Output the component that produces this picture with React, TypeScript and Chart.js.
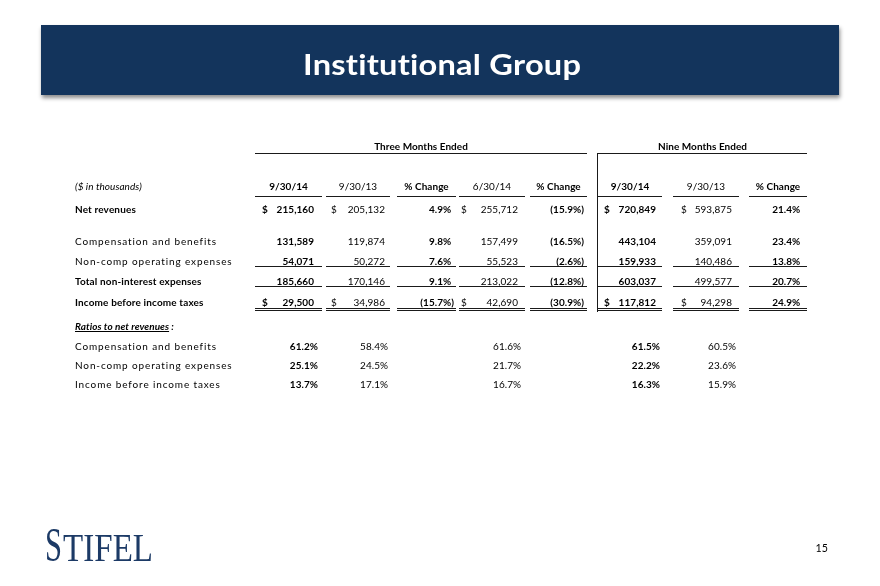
import React, { useEffect, useRef } from "react";
import { Chart, registerables } from "chart.js";

Chart.register(...registerables);

// ---------------- DATA ----------------
const title = "Institutional Group";
const groupHeaders = ["Three Months Ended", "Nine Months Ended"];
const unitsLabel = "($ in thousands)";
const columnHeaders = ["9/30/14", "9/30/13", "% Change", "6/30/14", "% Change", "9/30/14", "9/30/13", "% Change"];

const rowLabels = [
  "Net revenues",
  "Compensation and benefits",
  "Non-comp operating expenses",
  "Total non-interest expenses",
  "Income before income taxes",
];
const ratiosTitle = "Ratios to net revenues";
const ratioLabels = ["Compensation and benefits", "Non-comp operating expenses", "Income before income taxes"];

const q3_2014 = [215160, 131589, 54071, 185660, 29500];
const q3_2013 = [205132, 119874, 50272, 170146, 34986];
const changeYoY = [4.9, 9.8, 7.6, 9.1, -15.7];
const q2_2014 = [255712, 157499, 55523, 213022, 42690];
const changeQoQ = [-15.9, -16.5, -2.6, -12.8, -30.9];
const ytd_2014 = [720849, 443104, 159933, 603037, 117812];
const ytd_2013 = [593875, 359091, 140486, 499577, 94298];
const changeYtd = [21.4, 23.4, 13.8, 20.7, 24.9];

const ratio_q3_2014 = [61.2, 25.1, 13.7];
const ratio_q3_2013 = [58.4, 24.5, 17.1];
const ratio_q2_2014 = [61.6, 21.7, 16.7];
const ratio_ytd_2014 = [61.5, 22.2, 16.3];
const ratio_ytd_2013 = [60.5, 23.6, 15.9];

const pageNumber = "15";
const logoText = "STIFEL";

// ---------------- LAYOUT / STYLE ----------------
const W = 880;
const H = 586;
const FONT = 'Lato, "Noto Sans", sans-serif';
const BODY = 10.3;
const SX = 0.97;
const NAVY = "#13345c";
const LINE = "#1a1a1a";
const LABEL_X = 75;

const COLS = [
  { l: 255, r: 322, num: 314, dollar: 262, ratio: 318, bold: true },
  { l: 326, r: 390, num: 385, dollar: 331, ratio: 388, bold: false },
  { l: 397, r: 456, num: 454, dollar: 0, ratio: 0, bold: true },
  { l: 459, r: 525, num: 518, dollar: 461, ratio: 521, bold: false },
  { l: 530, r: 587, num: 584, dollar: 0, ratio: 0, bold: true },
  { l: 598, r: 662, num: 656, dollar: 604, ratio: 660, bold: true },
  { l: 673, r: 739, num: 732, dollar: 681, ratio: 736, bold: false },
  { l: 749, r: 807, num: 803, dollar: 0, ratio: 0, bold: true },
];
const ROW_Y = [209, 241.5, 261.5, 281.5, 301.8];
const RATIO_Y = [346, 365, 384];
const HEADER_Y = 186.5;
const GROUP_Y = 146;
const RATIOS_TITLE_Y = 326.5;
const BOLD_ROWS = [true, false, false, true, true];
const DOLLAR_ROWS = [0, 4];

const mainColumns = [q3_2014, q3_2013, changeYoY, q2_2014, changeQoQ, ytd_2014, ytd_2013, changeYtd];
const mainKinds = ["num", "num", "pct", "num", "pct", "num", "num", "pct"];
const ratioColumns: [number, number[]][] = [
  [0, ratio_q3_2014],
  [1, ratio_q3_2013],
  [3, ratio_q2_2014],
  [5, ratio_ytd_2014],
  [6, ratio_ytd_2013],
];

type TOpts = {
  size?: number;
  weight?: string;
  style?: string;
  align?: "left" | "right" | "center";
  color?: string;
  sx?: number;
  spacing?: number;
  family?: string;
  fitWidth?: number;
};

function txt(ctx: CanvasRenderingContext2D, s: string, x: number, yCenter: number, o: TOpts = {}) {
  const size = o.size ?? BODY;
  const weight = o.weight ?? "normal";
  const style = o.style ?? "normal";
  const align = o.align ?? "left";
  const family = o.family ?? FONT;
  const spacing = o.spacing ?? 0.05; // non-zero spacing also disables ligatures
  ctx.save();
  ctx.font = `${style} ${weight} ${size}px ${family}`;
  (ctx as any).letterSpacing = `${spacing}px`;
  ctx.fillStyle = o.color ?? "#000";
  ctx.textAlign = "left";
  ctx.textBaseline = "alphabetic";
  const raw = ctx.measureText(s).width - spacing;
  let sx = o.sx ?? SX;
  if (o.fitWidth) sx = o.fitWidth / raw;
  const w = raw * sx;
  const left = align === "left" ? x : align === "right" ? x - w : x - w / 2;
  const baseline = yCenter + 0.36 * size;
  ctx.translate(left, baseline);
  ctx.scale(sx, 1);
  ctx.fillText(s, 0, 0);
  ctx.restore();
  return { left, w, baseline };
}

function hline(ctx: CanvasRenderingContext2D, x1: number, x2: number, y: number, th = 1) {
  ctx.fillStyle = LINE;
  ctx.fillRect(x1, y, x2 - x1, th);
}

function fmtNum(v: number) {
  return v.toLocaleString("en-US");
}
function fmtPct(v: number) {
  return v < 0 ? `(${Math.abs(v).toFixed(1)}%)` : `${v.toFixed(1)}%`;
}

const tablePlugin = {
  id: "tablePlugin",
  beforeDraw(chart: any) {
    const ctx: CanvasRenderingContext2D = chart.ctx;
    ctx.save();
    ctx.fillStyle = "#fff";
    ctx.fillRect(0, 0, W, H);
    ctx.shadowColor = "rgba(0,0,0,0.45)";
    ctx.shadowBlur = 4;
    ctx.shadowOffsetX = 1;
    ctx.shadowOffsetY = 3;
    ctx.fillStyle = NAVY;
    ctx.fillRect(41, 25, 798, 70);
    ctx.restore();
    txt(ctx, title, 442, 65, { size: 28.5, weight: "bold", color: "#fff", align: "center", fitWidth: 278, spacing: 0.2 });
  },
  afterDatasetsDraw(chart: any) {
    const ctx: CanvasRenderingContext2D = chart.ctx;
    const xs = chart.scales.x;
    const ys = chart.scales.y;
    const px = (v: number) => xs.getPixelForValue(v);
    const py = (v: number) => ys.getPixelForValue(v);

    txt(ctx, groupHeaders[0], (px(COLS[0].l) + px(COLS[4].r)) / 2, py(GROUP_Y), { weight: "bold", align: "center" });
    txt(ctx, groupHeaders[1], (px(COLS[5].l) + px(COLS[7].r)) / 2, py(GROUP_Y), { weight: "bold", align: "center" });
    hline(ctx, px(COLS[0].l), px(COLS[4].r), Math.round(py(153)));
    hline(ctx, px(COLS[5].l) - 0.5, px(COLS[7].r), Math.round(py(153)));
    ctx.fillStyle = LINE;
    ctx.fillRect(Math.round(px(597)), Math.round(py(153)), 1, Math.round(py(311)) - Math.round(py(153)) + 1);

    txt(ctx, unitsLabel, px(LABEL_X), py(HEADER_Y), { style: "italic" });
    columnHeaders.forEach((h, i) => {
      const c = COLS[i];
      txt(ctx, h, (px(c.l) + px(c.r)) / 2, py(HEADER_Y), { weight: c.bold ? "bold" : "normal", align: "center" });
      hline(ctx, px(c.l), px(c.r), Math.round(py(196)));
      hline(ctx, px(c.l), px(c.r), Math.round(py(266)));
      hline(ctx, px(c.l), px(c.r), Math.round(py(286)));
      hline(ctx, px(c.l), px(c.r), Math.round(py(308)));
      hline(ctx, px(c.l), px(c.r), Math.round(py(310)));
    });

    const rt = txt(ctx, ratiosTitle, px(LABEL_X), py(RATIOS_TITLE_Y), { weight: "bold", style: "italic" });
    ctx.fillStyle = "#000";
    ctx.fillRect(rt.left, Math.round(rt.baseline + 1), rt.w, 1);
    txt(ctx, " :", rt.left + rt.w, py(RATIOS_TITLE_Y), { weight: "bold", style: "italic" });

    txt(ctx, pageNumber, 828, 548, { size: 11, align: "right" });
    const s = txt(ctx, logoText[0], 45, 544, { size: 48, family: '"Liberation Serif", serif', color: "#1c3a66", fitWidth: 17 });
    txt(ctx, logoText.slice(1), s.left + s.w + 1, 546.5, { size: 41, family: '"Liberation Serif", serif', color: "#1c3a66", fitWidth: 90 });

    chart.data.datasets.forEach((ds: any, di: number) => {
      const meta = chart.getDatasetMeta(di);
      meta.data.forEach((pt: any, j: number) => {
        const v = ds.values[j];
        const bold = ds.boldRows ? ds.boldRows[j] : ds.bold;
        const weight = bold ? "bold" : "normal";
        if (ds.kind === "label") {
          txt(ctx, v, pt.x, pt.y, { weight, spacing: bold ? 0.15 : 0.9 });
        } else if (ds.kind === "num") {
          txt(ctx, fmtNum(v), pt.x, pt.y, { weight, align: "right" });
          if (ds.dollarX && DOLLAR_ROWS.includes(j)) txt(ctx, "$", px(ds.dollarX), pt.y, { weight });
        } else if (ds.kind === "pct") {
          let x = pt.x;
          if (v >= 0) {
            ctx.save();
            ctx.font = `${weight} ${BODY}px ${FONT}`;
            x -= ctx.measureText(")").width * SX;
            ctx.restore();
          }
          txt(ctx, fmtPct(v), x, pt.y, { weight, align: "right" });
        } else if (ds.kind === "ratio") {
          txt(ctx, `${v.toFixed(1)}%`, pt.x, pt.y, { weight, align: "right" });
        }
      });
    });
  },
};

function buildDatasets() {
  const ds: any[] = [];
  ds.push({
    label: "rows",
    kind: "label",
    values: rowLabels,
    boldRows: BOLD_ROWS,
    data: rowLabels.map((_, j) => ({ x: LABEL_X, y: ROW_Y[j] })),
  });
  ds.push({
    label: "ratio rows",
    kind: "label",
    values: ratioLabels,
    boldRows: ratioLabels.map(() => false),
    data: ratioLabels.map((_, j) => ({ x: LABEL_X, y: RATIO_Y[j] })),
  });
  mainColumns.forEach((vals, i) => {
    ds.push({
      label: columnHeaders[i],
      kind: mainKinds[i],
      values: vals,
      bold: COLS[i].bold,
      dollarX: COLS[i].dollar,
      data: vals.map((_, j) => ({ x: COLS[i].num, y: ROW_Y[j] })),
    });
  });
  ratioColumns.forEach(([ci, vals]) => {
    ds.push({
      label: "ratio " + columnHeaders[ci],
      kind: "ratio",
      values: vals,
      bold: COLS[ci].bold,
      data: vals.map((_, j) => ({ x: COLS[ci].ratio, y: RATIO_Y[j] })),
    });
  });
  return ds.map((d) => ({ ...d, pointRadius: 0, showLine: false, borderWidth: 0 }));
}

export default function App() {
  const ref = useRef<HTMLCanvasElement | null>(null);
  useEffect(() => {
    if (!ref.current) return;
    const chart = new Chart(ref.current, {
      type: "scatter",
      data: { datasets: buildDatasets() as any },
      options: {
        responsive: false,
        animation: false,
        devicePixelRatio: 1,
        events: [],
        layout: { padding: 0 },
        plugins: { legend: { display: false }, tooltip: { enabled: false } },
        scales: {
          x: { type: "linear", min: 0, max: W, display: false },
          y: { type: "linear", min: 0, max: H, reverse: true, display: false },
        },
      },
      plugins: [tablePlugin],
    });
    return () => chart.destroy();
  }, []);
  return (
    <div style={{ position: "absolute", left: 0, top: 0, width: W, height: H, background: "#fff" }}>
      <canvas ref={ref} width={W} height={H} style={{ display: "block" }} />
    </div>
  );
}
